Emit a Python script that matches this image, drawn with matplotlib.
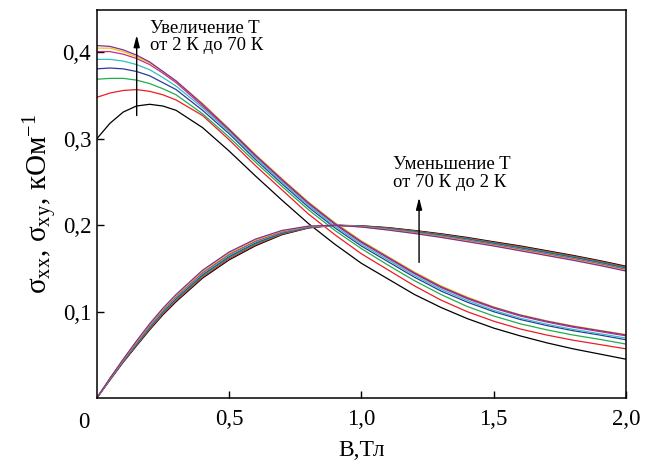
# -*- coding: utf-8 -*-
"""
Magnetoconductivity sigma_xx(B) and sigma_xy(B) for a set of temperatures (2 K .. 70 K).
Values read off the published figure.
"""
from __future__ import annotations

import matplotlib

matplotlib.use("Agg")
import matplotlib.pyplot as plt

# magnetic field, T
B = [0.0, 0.05, 0.1, 0.15, 0.2, 0.25, 0.3,
     0.4, 0.5, 0.6, 0.7, 0.8, 0.9, 1.0, 1.1, 1.2, 1.3, 1.4, 1.5, 1.6, 1.7, 1.8, 1.9, 2.0]

# sigma_xx, 1/kOhm (black = 2 K ... purple = 70 K)
sxx_black = [0.300, 0.318, 0.331, 0.338, 0.340, 0.338, 0.333,
             0.313, 0.286, 0.257, 0.229, 0.202, 0.178, 0.156, 0.138, 0.120, 0.105, 0.092, 0.081,
             0.072, 0.064, 0.057, 0.051, 0.045]
sxx_red = [0.348, 0.353, 0.356, 0.357, 0.355, 0.351, 0.345,
           0.327, 0.299, 0.269, 0.241, 0.213, 0.189, 0.167, 0.1485, 0.130, 0.1135, 0.100, 0.089,
           0.080, 0.073, 0.067, 0.062, 0.057]
sxx_green = [0.369, 0.370, 0.370, 0.368, 0.364, 0.358, 0.351,
             0.329, 0.302, 0.273, 0.245, 0.218, 0.194, 0.173, 0.154, 0.136, 0.120, 0.106, 0.095,
             0.086, 0.079, 0.073, 0.068, 0.0625]
sxx_blue = [0.381, 0.382, 0.381, 0.378, 0.373, 0.365, 0.357,
            0.333, 0.306, 0.276, 0.248, 0.221, 0.197, 0.176, 0.158, 0.140, 0.124, 0.111, 0.100,
            0.091, 0.084, 0.078, 0.073, 0.0675]
sxx_cyan = [0.392, 0.392, 0.390, 0.386, 0.380, 0.371, 0.361,
            0.336, 0.308, 0.278, 0.250, 0.223, 0.199, 0.178, 0.160, 0.142, 0.126, 0.113, 0.1015,
            0.0925, 0.0855, 0.0795, 0.0745, 0.0695]
sxx_magenta = [0.401, 0.401, 0.398, 0.393, 0.386, 0.376, 0.365,
               0.338, 0.310, 0.280, 0.252, 0.225, 0.201, 0.180, 0.162, 0.144, 0.128, 0.115, 0.104,
               0.095, 0.088, 0.082, 0.077, 0.072]
sxx_yellow = [0.405, 0.405, 0.401, 0.395, 0.388, 0.378, 0.367,
              0.341, 0.312, 0.282, 0.254, 0.227, 0.203, 0.182, 0.164, 0.146, 0.130, 0.117, 0.1055,
              0.0965, 0.0895, 0.0835, 0.0785, 0.0735]
sxx_purple = [0.408, 0.407, 0.403, 0.397, 0.389, 0.378, 0.367,
              0.340, 0.311, 0.281, 0.253, 0.226, 0.202, 0.181, 0.163, 0.145, 0.129, 0.116, 0.105,
              0.096, 0.089, 0.083, 0.078, 0.073]

# sigma_xy, 1/kOhm
sxy_black = [0.0, 0.0209, 0.0415, 0.0604, 0.079, 0.0963, 0.1116,
             0.1389, 0.1599, 0.1763, 0.1891, 0.1969, 0.200, 0.1994, 0.1973, 0.194, 0.1902, 0.1859,
             0.1809, 0.1761, 0.1706, 0.1651, 0.1591, 0.1526]
sxy_red = [0.0, 0.0212, 0.042, 0.0612, 0.080, 0.0974, 0.1128,
           0.1402, 0.1612, 0.1774, 0.1898, 0.1972, 0.200, 0.1992, 0.1969, 0.1935, 0.1896, 0.1852,
           0.1802, 0.1753, 0.1698, 0.1643, 0.1583, 0.1518]
sxy_green = [0.0, 0.0215, 0.0425, 0.062, 0.081, 0.0985, 0.114,
             0.1415, 0.1625, 0.1785, 0.1905, 0.1975, 0.200, 0.199, 0.1965, 0.193, 0.189, 0.1845,
             0.1795, 0.1745, 0.169, 0.1635, 0.1575, 0.151]
sxy_blue = [0.0, 0.0218, 0.043, 0.0628, 0.082, 0.0996, 0.1152,
            0.1428, 0.1638, 0.1796, 0.1912, 0.1978, 0.200, 0.1988, 0.1961, 0.1925, 0.1884, 0.1838,
            0.1788, 0.1737, 0.1682, 0.1627, 0.1567, 0.1502]
sxy_cyan = [0.0, 0.0221, 0.0435, 0.0636, 0.083, 0.1007, 0.1164,
            0.1441, 0.1651, 0.1807, 0.1919, 0.1981, 0.200, 0.1986, 0.1957, 0.192, 0.1878, 0.1831,
            0.1781, 0.1729, 0.1674, 0.1619, 0.1559, 0.1494]
sxy_magenta = [0.0, 0.0224, 0.044, 0.0644, 0.084, 0.1018, 0.1176,
               0.1454, 0.1664, 0.1818, 0.1926, 0.1984, 0.200, 0.1984, 0.1953, 0.1915, 0.1872, 0.1824,
               0.1774, 0.1721, 0.1666, 0.1611, 0.1551, 0.1486]
sxy_yellow = [0.0, 0.0227, 0.0445, 0.0652, 0.085, 0.1029, 0.1188,
              0.1467, 0.1677, 0.1829, 0.1933, 0.1987, 0.200, 0.1982, 0.1949, 0.191, 0.1866, 0.1817,
              0.1767, 0.1713, 0.1658, 0.1603, 0.1543, 0.1478]
sxy_purple = [0.0, 0.023, 0.045, 0.066, 0.086, 0.104, 0.120,
              0.148, 0.169, 0.184, 0.194, 0.199, 0.200, 0.198, 0.1945, 0.1905, 0.186, 0.181,
              0.176, 0.1705, 0.165, 0.1595, 0.1535, 0.147]

X_TICKS = [0.5, 1.0, 1.5, 2.0]
X_TICK_LABELS = ["0,5", "1,0", "1,5", "2,0"]
Y_TICKS = [0.1, 0.2, 0.3, 0.4]
Y_TICK_LABELS = ["0,1", "0,2", "0,3", "0,4"]

CURVES = [
    ("#000000", sxx_black, sxy_black),
    ("#ee1c25", sxx_red, sxy_red),
    ("#1fae4b", sxx_green, sxy_green),
    ("#2b3a9a", sxx_blue, sxy_blue),
    ("#2fbfc4", sxx_cyan, sxy_cyan),
    ("#c62b8f", sxx_magenta, sxy_magenta),
    ("#f2c200", sxx_yellow, sxy_yellow),
    ("#7b2f9e", sxx_purple, sxy_purple),
]


def main() -> int:
    plt.rcParams["font.family"] = ["Liberation Serif", "DejaVu Serif"]
    plt.rcParams["mathtext.fontset"] = "custom"
    plt.rcParams["mathtext.rm"] = "Liberation Serif"
    plt.rcParams["mathtext.it"] = "Liberation Serif:italic"

    fig = plt.figure(figsize=(6.58, 4.70), dpi=100)
    ax = fig.add_axes([0.147, 0.153, 0.8044, 0.8255])

    for color, sxx, sxy in CURVES:
        ax.plot(B, sxx, color=color, lw=0.9)
        ax.plot(B, sxy, color=color, lw=0.9)

    ax.set_xlim(0, 2.0)
    ax.set_ylim(0, 0.449)
    ax.set_xticks(X_TICKS)
    ax.set_xticklabels(X_TICK_LABELS)
    ax.set_yticks(Y_TICKS)
    ax.set_yticklabels(Y_TICK_LABELS)
    ax.tick_params(direction="in", length=5, width=1.0, labelsize=16.5)
    ax.tick_params(axis="x", pad=8)
    ax.tick_params(axis="y", pad=4)
    for sp in ax.spines.values():
        sp.set_linewidth(1.1)

    # shared origin label
    ax.annotate("0", xy=(0, 0), xycoords="data", xytext=(-9, -10), textcoords="offset points",
                ha="center", va="top", fontsize=16.5, annotation_clip=False)

    ax.set_xlabel("B,Тл", fontsize=17, labelpad=7)
    ax.set_ylabel(r"$\mathrm{σ_{xx}, \, σ_{xy}, \, кОм^{-1}}$", fontsize=21, labelpad=2)

    arrow = dict(arrowstyle="-|>,head_width=0.18,head_length=0.7", color="black", lw=1.0,
                 shrinkA=0, shrinkB=0)
    ax.annotate("", xy=(0.151, 0.420), xytext=(0.151, 0.327), arrowprops=arrow)
    ax.text(0.201, 0.418, "Увеличение T\nот 2 К до 70 К", fontsize=13.5,
            ha="left", va="center", linespacing=1.05)
    ax.annotate("", xy=(1.218, 0.232), xytext=(1.218, 0.157), arrowprops=arrow)
    ax.text(1.118, 0.260, "Уменьшение T\nот 70 К до 2 К", fontsize=13.5,
            ha="left", va="center", linespacing=1.05)

    fig.savefig("out.png", dpi=100)
    plt.close(fig)
    return 0


if __name__ == "__main__":
    raise SystemExit(main())
